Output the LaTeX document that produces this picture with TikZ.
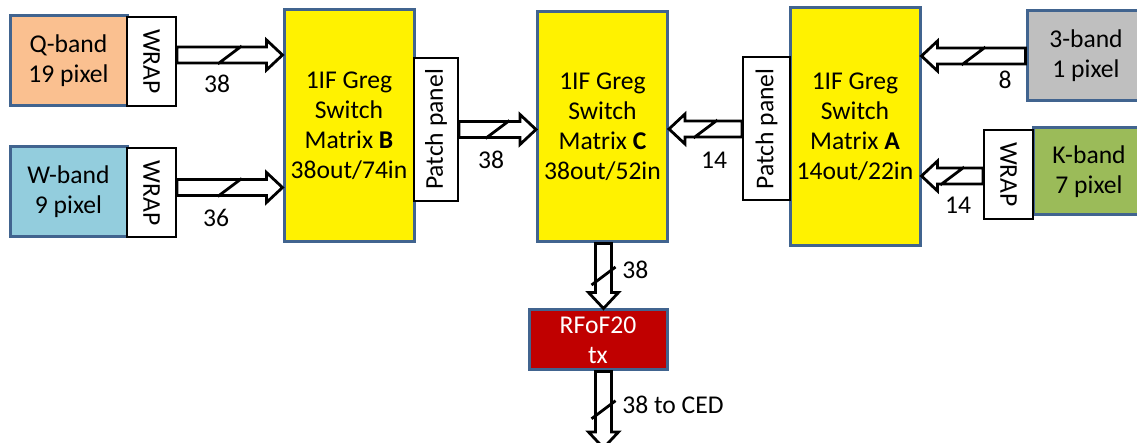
\documentclass[tikz,border=0pt]{standalone}
\usepackage{fontspec}
\setmainfont{Carlito}
\usepackage{graphicx}
\usetikzlibrary{calc}

\definecolor{edgeblue}{HTML}{41648F}
\definecolor{qfill}{HTML}{FAC090}
\definecolor{wfill}{HTML}{93CDDD}
\definecolor{threefill}{HTML}{BFBFBF}
\definecolor{kfill}{HTML}{9BBB59}
\definecolor{rffill}{HTML}{C00000}

\tikzset{
  every node/.style={font=\fontsize{12.8}{15}\selectfont},
  band/.style={draw=edgeblue, line width=1.5pt, inner sep=0pt, align=center,
    minimum width=58.5pt, minimum height=45pt},
  wrapbox/.style={draw, line width=1pt, fill=white, inner sep=0pt,
    minimum width=24.5pt, minimum height=44.5pt},
  switchbox/.style={draw=edgeblue, fill=yellow, line width=1.5pt, inner sep=0pt,
    align=center, minimum width=65pt},
  patchbox/.style={draw, line width=1pt, fill=white, inner sep=0pt,
    minimum height=71.5pt},
  num/.style={inner sep=1pt},
  % hollow block arrow with a bus slash
  bus/.style={draw=black, fill=white, line width=1.4pt, to path={
    let \p1=(\tikztostart), \p2=(\tikztotarget),
        \p3=($(\p2)!8pt!(\p1)$), \p4=($(\p1)!0.5!(\p2)$) in
    ($(\p1)!4pt!90:(\p2)$) -- ($(\p3)!4pt!90:(\p2)$) -- ($(\p3)!7.5pt!90:(\p2)$)
    -- (\p2) -- ($(\p3)!7.5pt!-90:(\p2)$) -- ($(\p3)!4pt!-90:(\p2)$)
    -- ($(\p1)!4pt!-90:(\p2)$) -- cycle
    (\p4) +(-6pt,-4.5pt) -- +(6pt,4.5pt)}}
}

\begin{document}
\begin{tikzpicture}[x=0.5pt,y=-0.5pt]
  \useasboundingbox (0,0) rectangle (1137,443);

  % sources
  \node[band, fill=qfill] (qband) at (68.5,60.5) {Q-band\\19 pixel};
  \node[wrapbox] (wrapQ) at (151.5,61.5) {\rotatebox{-90}{WRAP}};
  \node[band, fill=wfill] (wband) at (68.5,192) {W-band\\9 pixel};
  \node[wrapbox] (wrapW) at (151.5,193) {\rotatebox{-90}{WRAP}};
  \node[band, fill=threefill, minimum width=59pt] (three) at (1086,56) {3-band\\1 pixel};
  \node[band, fill=kfill, minimum width=56pt, minimum height=43.5pt] (kband) at (1089,171.5) {K-band\\7 pixel};
  \node[wrapbox] (wrapK) at (1008.5,174.5) {\rotatebox{-90}{WRAP}};

  % switch matrices
  \node[switchbox, minimum height=116pt] (matB) at (349,126)
    {1IF Greg\\Switch\\Matrix \textbf{B}\\38out/74in};
  \node[switchbox, minimum height=115pt] (matC) at (602.5,127)
    {1IF Greg\\Switch\\Matrix \textbf{C}\\38out/52in};
  \node[switchbox, minimum height=119pt] (matA) at (855,127)
    {1IF Greg\\Switch\\Matrix \textbf{A}\\14out/22in};
  \node[patchbox, minimum width=22pt] (patchB) at (436,129.5) {\rotatebox{90}{Patch panel}};
  \node[patchbox, minimum width=23.5pt] (patchA) at (766.5,129) {\rotatebox{90}{Patch panel}};

  % transmitter
  \node[draw=edgeblue, fill=rffill, text=white, line width=1.5pt, align=center,
    inner sep=0pt, minimum width=69pt, minimum height=30pt] (rfof) at (598,340) {RFoF20\\tx};
  \coordinate (ced) at (603.5,448);

  % buses
  \draw[bus] ([yshift=3.25pt]wrapQ.east) to ([yshift=3.25pt]wrapQ.east -| matB.west);
  \draw[bus] ([yshift=2.75pt]wrapW.east) to ([yshift=2.75pt]wrapW.east -| matB.west);
  \draw[bus] (patchB.east) to (patchB.east -| matC.west);
  \draw[bus] (patchA.west) to (patchA.west -| matC.east);
  \draw[bus] (three.west) to (three.west -| matA.east);
  \draw[bus] ([yshift=-0.75pt]wrapK.west) to ([yshift=-0.75pt]wrapK.west -| matA.east);
  \draw[bus] (ced |- matC.south) to (ced |- rfof.north);
  \draw[bus] (ced |- rfof.south) to (ced);

  % bus widths
  \node[num] (nQ) at (217,84) {38};
  \node[num] (nW) at (216,218) {36};
  \node[num] (nBC) at (491,160) {38};
  \node[num] (nAC) at (714,160) {14};
  \node[num] (nThree) at (1005,80) {8};
  \node[num] (nK) at (958,205) {14};
  \node[num, anchor=west] (nRF) at (620,270) {38};
  \node[num, anchor=west] (nCED) at (620,405) {38 to CED};
\end{tikzpicture}
\end{document}
